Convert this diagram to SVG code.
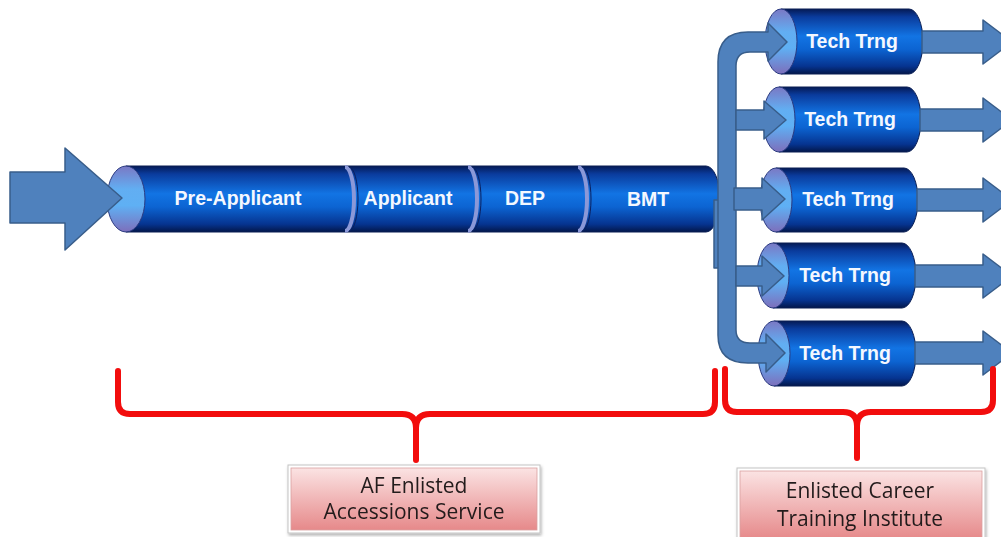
<svg xmlns="http://www.w3.org/2000/svg" width="1001" height="537" viewBox="0 0 1001 537">
<defs>
<linearGradient id="cyl" x1="0" y1="0" x2="0" y2="1">
<stop offset="0" stop-color="#051a55"/>
<stop offset="0.12" stop-color="#0a3b9c"/>
<stop offset="0.42" stop-color="#1274e4"/>
<stop offset="0.62" stop-color="#0c64d2"/>
<stop offset="0.88" stop-color="#063490"/>
<stop offset="1" stop-color="#03174a"/>
</linearGradient>
<linearGradient id="face" x1="0" y1="0" x2="0" y2="1">
<stop offset="0" stop-color="#7a78c4"/>
<stop offset="0.35" stop-color="#62aef2"/>
<stop offset="0.6" stop-color="#5fb0f4"/>
<stop offset="1" stop-color="#7d6fbb"/>
</linearGradient>
<linearGradient id="pink" x1="0" y1="0" x2="0" y2="1">
<stop offset="0" stop-color="#fbe3e3"/>
<stop offset="1" stop-color="#e6898a"/>
</linearGradient>
<filter id="sh" x="-10%" y="-10%" width="125%" height="130%">
<feDropShadow dx="1" dy="2" stdDeviation="1.5" flood-color="#000" flood-opacity="0.3"/>
</filter>
</defs>
<style>
.body{fill:url(#cyl);stroke:#0a1f55;stroke-width:1}
.face{fill:url(#face);stroke:#2a3a80;stroke-width:1}
.div{fill:none;stroke:#8b98d8;stroke-width:4}
.divd{fill:none;stroke:#0a2060;stroke-width:1}
.lbl{font-family:"Liberation Sans",Arial,sans-serif;font-weight:bold;font-size:19.5px;fill:#f4f8ff;text-anchor:middle}
.arr{fill:#4f81bd;stroke:#385d8a;stroke-width:1.5;stroke-linejoin:round}
.brace{fill:none;stroke:#f20d0d;stroke-width:6;stroke-linecap:round;stroke-linejoin:round}
.boxo{fill:#fff;stroke:#c4c4c4;stroke-width:1}
.boxi{fill:url(#pink);stroke:#d9a0a0;stroke-width:0.8}
.btxt{font-family:"Open Sans","Liberation Sans",sans-serif;font-size:21px;fill:#221a1a;text-anchor:middle}
</style>

<g id="pipeline">
<path class="body" d="M126,166 H706 A14,33 0 0 1 706,232 H126 Z"/>
<ellipse class="face" cx="126" cy="199" rx="19" ry="33"/>
<path class="div" d="M345,167 A9,32 0 0 1 345,231"/>
<path class="divd" d="M349,167 A9,32 0 0 1 349,231"/>
<path class="div" d="M468,167 A9,32 0 0 1 468,231"/>
<path class="divd" d="M472,167 A9,32 0 0 1 472,231"/>
<path class="div" d="M578,167 A9,32 0 0 1 578,231"/>
<path class="divd" d="M582,167 A9,32 0 0 1 582,231"/>
</g>
<g id="pre-applicant"><text class="lbl" x="238" y="205">Pre-Applicant</text></g>
<g id="applicant"><text class="lbl" x="408" y="205">Applicant</text></g>
<g id="dep"><text class="lbl" x="525" y="205">DEP</text></g>
<g id="bmt"><text class="lbl" x="648" y="206">BMT</text></g>

<g id="tech1">
<path class="body" d="M781,9 H909 A14,32.5 0 0 1 909,74 H781 Z"/>
<ellipse class="face" cx="781" cy="41.5" rx="16" ry="32.5"/>
<text class="lbl" x="852" y="48">Tech Trng</text>
</g>
<g id="tech2">
<path class="body" d="M779,87 H907 A14,32.5 0 0 1 907,152 H779 Z"/>
<ellipse class="face" cx="779" cy="119.5" rx="16" ry="32.5"/>
<text class="lbl" x="850" y="126">Tech Trng</text>
</g>
<g id="tech3">
<path class="body" d="M776,168 H904 A14,32 0 0 1 904,232 H776 Z"/>
<ellipse class="face" cx="776" cy="200" rx="16" ry="32"/>
<text class="lbl" x="848" y="206">Tech Trng</text>
</g>
<g id="tech4">
<path class="body" d="M773,243 H902 A14,32.5 0 0 1 902,308 H773 Z"/>
<ellipse class="face" cx="773" cy="275.5" rx="16" ry="32.5"/>
<text class="lbl" x="845" y="282">Tech Trng</text>
</g>
<g id="tech5">
<path class="body" d="M774,321 H902 A14,32.5 0 0 1 902,386 H774 Z"/>
<ellipse class="face" cx="774" cy="353.5" rx="16" ry="32.5"/>
<text class="lbl" x="845" y="360">Tech Trng</text>
</g>

<g id="connectors">
<path class="arr" d="M10,172 H65 V148 L122,198 L65,250 V223 H10 Z"/>
<rect class="arr" x="714" y="200" width="7" height="68"/>
<path class="arr" d="M718,335 V62 Q718,32 748,32 H768 V23 L787,42 L768,61 V52 H750 Q736,52 736,66 V330 Q736,343 750,343 H766 V334 L785,353 L766,372 V363 H748 Q718,363 718,335 Z"/>
<path class="arr" d="M736,110 H764 V101 L786,120 L764,139 V130 H736 Z"/>
<path class="arr" d="M734,188 H762 V178 L785,199 L762,220 V210 H734 Z"/>
<path class="arr" d="M736,266 H762 V256 L784,276 L762,296 V286 H736 Z"/>
<path class="arr" d="M922,31 H983 V20 L1012,42 L983,64 V53 H922 Z"/>
<path class="arr" d="M920,109 H983 V98 L1012,120 L983,142 V131 H920 Z"/>
<path class="arr" d="M917,189 H983 V178 L1012,200 L983,222 V211 H917 Z"/>
<path class="arr" d="M915,265 H983 V254 L1012,276 L983,298 V287 H915 Z"/>
<path class="arr" d="M915,342 H983 V331 L1012,353 L983,375 V364 H915 Z"/>
</g>

<g id="brace-left">
<path class="brace" d="M118,371 V402 Q118,414 130,414 H402 Q416,414 416,428 V460"/>
<path class="brace" d="M715,371 V402 Q715,414 703,414 H430 Q416,414 416,428"/>
</g>
<g id="brace-right">
<path class="brace" d="M725,369 V400 Q725,412 737,412 H843 Q857,412 857,426 V458"/>
<path class="brace" d="M993,369 V400 Q993,412 981,412 H871 Q857,412 857,426"/>
</g>

<g id="af-enlisted" filter="url(#sh)">
<rect class="boxo" x="288" y="465" width="252" height="68"/>
<rect class="boxi" x="291" y="468" width="246" height="62"/>
<text class="btxt" x="414" y="493">AF Enlisted</text>
<text class="btxt" x="414" y="519">Accessions Service</text>
</g>
<g id="ecti" filter="url(#sh)">
<rect class="boxo" x="737" y="468" width="248" height="72"/>
<rect class="boxi" x="740" y="471" width="242" height="68"/>
<text class="btxt" x="860" y="498">Enlisted Career</text>
<text class="btxt" x="860" y="526">Training Institute</text>
</g>
</svg>
